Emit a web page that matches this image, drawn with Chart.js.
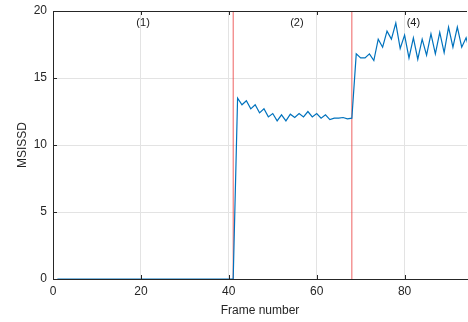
<!DOCTYPE html>
<html>
<head>
<meta charset="utf-8">
<script src="https://cdn.jsdelivr.net/npm/chart.js@4"></script>
<style>
  html, body { margin: 0; padding: 0; background: #fff; }
  #myChart { display: block; }
</style>
</head>
<body>
<canvas id="myChart" width="468" height="322"></canvas>
<script>
const frames = [
  1, 2, 3, 4, 5, 6, 7, 8, 9, 10, 11, 12, 13, 14, 15, 16, 17, 18, 19, 20,
  21, 22, 23, 24, 25, 26, 27, 28, 29, 30, 31, 32, 33, 34, 35, 36, 37, 38, 39, 40,
  41, 42, 43, 44, 45, 46, 47, 48, 49, 50, 51, 52, 53, 54, 55, 56, 57, 58, 59, 60,
  61, 62, 63, 64, 65, 66, 67, 68, 69, 70, 71, 72, 73, 74, 75, 76, 77, 78, 79, 80,
  81, 82, 83, 84, 85, 86, 87, 88, 89, 90, 91, 92, 93, 94, 95,
];
const msissd = [
  0, 0, 0, 0, 0, 0, 0, 0, 0, 0, 0, 0, 0, 0, 0, 0, 0, 0, 0, 0,
  0, 0, 0, 0, 0, 0, 0, 0, 0, 0, 0, 0, 0, 0, 0, 0, 0, 0, 0, 0,
  0, 13.5, 13.0, 13.3, 12.7, 13.0, 12.4, 12.7, 12.1, 12.35, 11.8, 12.25, 11.8, 12.3, 12.05, 12.35, 12.1, 12.5, 12.1, 12.35,
  12.0, 12.25, 11.9, 12.0, 12.0, 12.05, 11.95, 12.0, 16.8, 16.5, 16.5, 16.8, 16.3, 17.9, 17.3, 18.5, 17.9, 19.1, 17.2, 18.2,
  16.5, 18.0, 16.4, 17.9, 16.7, 18.3, 16.8, 18.4, 16.9, 18.8, 17.3, 18.8, 17.3, 18.0, 16.8,
];
const boundaries = [41, 68];
const segmentLabels = ["(1)", "(2)", "(4)"];
const segmentLabelX = [20.5, 55.5, 82];
const xTicks = [0, 20, 40, 60, 80];
const yTicks = [0, 5, 10, 15, 20];

const ink = "#262626";
const font = "'Liberation Sans', Arial, sans-serif";

const lineData = frames.map((f, i) => ({ x: f, y: msissd[i] }));
const boundarySets = boundaries.map((b) => ({
  data: [{ x: b, y: 0 }, { x: b, y: 20 }],
  borderColor: "rgba(235,70,70,0.85)",
  borderWidth: 1,
  pointRadius: 0,
  order: 2,
}));

/* frame, inward ticks and segment names */
const matlabAxes = {
  id: "matlabAxes",
  afterDatasetsDraw(chart) {
    const { ctx, chartArea: a, scales } = chart;
    ctx.save();
    ctx.strokeStyle = ink;
    ctx.lineWidth = 1;
    ctx.beginPath();
    ctx.moveTo(a.left, a.top + 0.5);
    ctx.lineTo(a.right, a.top + 0.5);
    xTicks.forEach((t) => {
      const px = Math.round(scales.x.getPixelForValue(t)) + 0.5;
      ctx.moveTo(px, a.bottom);
      ctx.lineTo(px, a.bottom - 4);
      ctx.moveTo(px, a.top);
      ctx.lineTo(px, a.top + 4);
    });
    yTicks.forEach((t) => {
      const py = Math.round(scales.y.getPixelForValue(t)) + 0.5;
      ctx.moveTo(a.left, py);
      ctx.lineTo(a.left + 4, py);
    });
    ctx.stroke();
    ctx.fillStyle = "#1a1a1a";
    ctx.font = "11px " + font;
    ctx.textAlign = "center";
    ctx.textBaseline = "middle";
    segmentLabels.forEach((s, i) => {
      ctx.fillText(s, scales.x.getPixelForValue(segmentLabelX[i]), a.top + 12);
    });
    ctx.restore();
  },
};

new Chart(document.getElementById("myChart"), {
  type: "line",
  data: {
    datasets: [
      {
        data: lineData,
        borderColor: "#0072BD",
        borderWidth: 1.2,
        pointRadius: 0,
        tension: 0,
        order: 1,
      },
      ...boundarySets,
    ],
  },
  options: {
    responsive: false,
    animation: false,
    layout: { padding: { top: 11, right: 1, left: 0, bottom: 0 } },
    plugins: { legend: { display: false }, tooltip: { enabled: false } },
    scales: {
      x: {
        type: "linear",
        min: 0,
        max: 94.2,
        afterBuildTicks: (s) => { s.ticks = xTicks.map((v) => ({ value: v })); },
        afterFit: (s) => { s.height = 43; s.paddingLeft = 0; s.paddingRight = 0; },
        grid: { color: "#e3e3e3", drawTicks: false },
        border: { color: ink, width: 1 },
        ticks: { color: ink, font: { size: 12, family: font }, padding: 5, maxRotation: 0 },
        title: { display: true, text: "Frame number", color: ink, font: { size: 12, family: font }, padding: { top: 0 } },
      },
      y: {
        min: 0,
        max: 20,
        afterBuildTicks: (s) => { s.ticks = yTicks.map((v) => ({ value: v })); },
        afterFit: (s) => { s.width = 53; s.paddingTop = 0; s.paddingBottom = 0; },
        grid: { color: "#e3e3e3", drawTicks: false },
        border: { color: ink, width: 1 },
        ticks: { color: ink, font: { size: 12, family: font }, padding: 6 },
        title: { display: true, text: "MSISSD", color: ink, font: { size: 12, family: font }, padding: { top: 15, bottom: 6 } },
      },
    },
  },
  plugins: [matlabAxes],
});
</script>
</body>
</html>
